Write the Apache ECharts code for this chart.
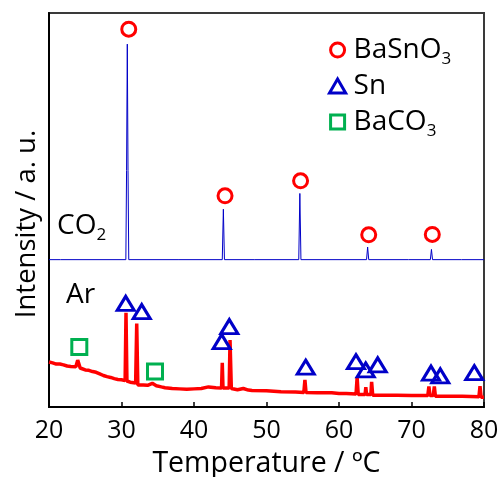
<!DOCTYPE html>
<html>
<head>
<meta charset="utf-8">
<script src="https://cdn.jsdelivr.net/npm/echarts@6/dist/echarts.min.js"></script>
<style>
  html, body { margin: 0; padding: 0; background: #fff; }
  #chart { width: 501px; height: 477px; }
</style>
</head>
<body>
<div id="chart"></div>
<script>
// XRD-style patterns: temperature (x) vs intensity in arbitrary units (y)
const xTicks = [20, 30, 40, 50, 60, 70, 80];

// Pattern recorded under CO2 (offset upward)
const co2Pattern = [
  [20.0, 37.4], [21.6, 37.4], [21.7, 37.6], [21.8, 37.4], [30.6, 37.4], [30.7, 60.0],
  [30.8, 92.1], [30.9, 60.0], [31.0, 37.4], [37.8, 37.4], [37.9, 37.6], [38.0, 37.4],
  [43.9, 37.4], [44.05, 50.2], [44.2, 37.4], [48.3, 37.4], [48.4, 37.6], [48.5, 37.4],
  [54.45, 37.4], [54.6, 54.2], [54.75, 37.4], [63.8, 37.4], [63.95, 40.6], [64.1, 37.4],
  [69.6, 37.4], [69.7, 37.8], [69.8, 37.4], [72.6, 37.4], [72.75, 40.0], [72.9, 37.4],
  [76.9, 37.4], [77.0, 37.8], [77.1, 37.4], [80.0, 37.4]
];

// Pattern recorded under Ar
const arPattern = [
  [20.0, 11.4], [20.5, 11.2], [21.0, 10.9], [21.5, 10.9], [22.0, 10.7], [22.5, 10.4],
  [23.0, 10.3], [23.7, 10.2], [23.96, 11.9], [24.3, 9.9], [25.0, 9.4], [25.5, 9.3],
  [26.0, 9.0], [26.5, 8.8], [27.0, 8.4], [27.5, 8.0], [28.0, 7.7], [28.5, 7.5],
  [29.0, 7.2], [29.5, 7.0], [30.0, 6.9], [30.5, 6.7], [30.62, 23.9], [30.75, 6.6],
  [31.2, 6.3], [31.95, 6.1], [32.1, 21.2], [32.25, 5.6], [33.0, 5.6], [33.6, 5.5],
  [34.25, 6.0], [34.8, 5.4], [35.0, 5.3], [35.5, 5.1], [36.0, 4.9], [37.0, 4.7],
  [38.0, 4.6], [39.0, 4.5], [40.0, 4.6], [41.0, 4.7], [42.0, 5.1], [43.0, 4.9],
  [43.8, 4.8], [43.9, 11.2], [44.0, 4.8], [44.85, 4.8], [44.97, 17.0], [45.15, 4.7],
  [46.0, 4.4], [46.8, 4.7], [47.5, 4.3], [48.0, 4.2], [50.0, 4.1], [52.0, 3.9],
  [54.0, 3.8], [55.15, 3.7], [55.3, 6.9], [55.45, 3.7], [57.0, 3.6], [59.0, 3.6],
  [60.0, 3.4], [61.0, 3.4], [62.35, 3.3], [62.5, 7.5], [62.65, 3.2], [63.6, 3.2],
  [63.7, 5.0], [63.8, 3.2], [64.4, 3.2], [64.5, 6.4], [64.65, 3.0], [66.0, 3.0],
  [68.0, 3.0], [70.0, 2.9], [72.25, 2.9], [72.4, 5.2], [72.55, 2.9], [73.0, 2.9],
  [73.15, 5.2], [73.3, 2.7], [75.0, 2.7], [77.0, 2.7], [79.3, 2.6], [79.45, 5.3],
  [79.6, 2.5], [80.0, 2.5]
];

// Phase markers placed above the reflections
const basno3Marks = [[31.0, 95.9], [44.28, 53.6], [54.7, 57.4], [64.1, 43.7], [72.87, 43.8]];
const snMarks = [
  [30.58, 26.3], [32.79, 24.2], [43.82, 16.6], [44.87, 20.4], [55.41, 10.1],
  [62.34, 11.5], [63.68, 9.4], [65.34, 10.7], [72.69, 8.6], [73.97, 7.9], [78.66, 8.7]
];
const baco3Marks = [[24.18, 15.2], [34.62, 9.0]];

const FONT = '"Open Sans", "Noto Sans", sans-serif';
const RED = '#ff0000';
const BLUE = '#0000c8';
const GREEN = '#00b050';

// Square and triangle outlines that keep their aspect inside the legend box
const SQUARE_ICON = 'path://M0,0H10V10H0Z';
const TRIANGLE_ICON = 'path://M5,0L10,8.66L0,8.66Z';

const legendNames = {
  'BaSnO3': '{m|BaSnO}{s|3}',
  'Sn': '{m|Sn}',
  'BaCO3': '{m|BaCO}{s|3}'
};

const chart = echarts.init(document.getElementById('chart'), null, { renderer: 'canvas' });

chart.setOption({
  animation: false,
  backgroundColor: '#ffffff',
  grid: {
    left: 49, right: 17, top: 13, bottom: 70,
    containLabel: false,
    outerBoundsMode: 'none',
    show: true, borderColor: '#3a3a3a', borderWidth: 2, backgroundColor: 'transparent'
  },
  xAxis: {
    type: 'value',
    min: xTicks[0],
    max: xTicks[xTicks.length - 1],
    interval: 10,
    axisLine: { show: true, lineStyle: { color: '#000', width: 2 } },
    axisTick: { show: true, inside: true, length: 5, lineStyle: { color: '#000', width: 1.5 } },
    axisLabel: { fontFamily: FONT, fontSize: 25, color: '#000', margin: 11 },
    splitLine: { show: false },
    name: 'Temperature / ºC',
    nameLocation: 'middle',
    nameGap: 42,
    nameTextStyle: { fontFamily: FONT, fontSize: 28.5, color: '#000' }
  },
  yAxis: {
    type: 'value',
    min: 0,
    max: 100,
    axisLine: { show: true, lineStyle: { color: '#000', width: 2 } },
    axisTick: { show: false },
    axisLabel: { show: false },
    splitLine: { show: false }
  },
  legend: {
    orient: 'vertical',
    left: 328,
    top: 32,
    padding: 0,
    itemWidth: 22,
    itemHeight: 14,
    itemGap: 0,
    selectedMode: false,
    formatter: name => legendNames[name],
    textStyle: {
      fontFamily: FONT, fontSize: 28, color: '#000', lineHeight: 36,
      rich: {
        m: { fontFamily: FONT, fontSize: 28, color: '#000', lineHeight: 36 },
        s: { fontFamily: FONT, fontSize: 17, color: '#000', lineHeight: 12, verticalAlign: 'bottom' }
      }
    },
    data: [
      { name: 'BaSnO3', icon: 'circle', itemStyle: { color: '#fff', borderColor: RED, borderWidth: 3 } },
      { name: 'Sn', icon: TRIANGLE_ICON, itemStyle: { color: '#fff', borderColor: BLUE, borderWidth: 3 } },
      { name: 'BaCO3', icon: SQUARE_ICON, itemStyle: { color: '#fff', borderColor: GREEN, borderWidth: 3 } }
    ]
  },
  graphic: [
    {
      type: 'text', left: 57, top: 212,
      style: {
        text: '{m|CO}{s|2}', fill: '#000',
        rich: {
          m: { fontFamily: FONT, fontSize: 28, lineHeight: 36, fill: '#000' },
          s: { fontFamily: FONT, fontSize: 17, lineHeight: 12, verticalAlign: 'bottom', fill: '#000' }
        }
      }
    },
    {
      type: 'text', left: 66, top: 281,
      style: { text: 'Ar', fontFamily: FONT, fontSize: 28, fill: '#000' }
    },
    {
      type: 'text', x: 27, y: 224, rotation: Math.PI / 2,
      style: {
        text: 'Intensity / a. u.', fontFamily: FONT, fontSize: 27.5, fill: '#000',
        align: 'center', verticalAlign: 'middle'
      }
    }
  ],
  series: [
    {
      name: 'CO2', type: 'line', data: co2Pattern, showSymbol: false, silent: true,
      lineStyle: { color: BLUE, width: 1 }, z: 2
    },
    {
      name: 'Ar', type: 'line', data: arPattern, showSymbol: false, silent: true,
      lineStyle: { color: RED, width: 3.5 }, z: 2
    },
    {
      name: 'BaSnO3', type: 'scatter', data: basno3Marks, symbol: 'circle', symbolSize: 14,
      itemStyle: { color: '#fff', borderColor: RED, borderWidth: 3, opacity: 1 }, z: 3
    },
    {
      name: 'Sn', type: 'scatter', data: snMarks, symbol: 'triangle', symbolSize: [17, 14],
      itemStyle: { color: 'rgba(255,255,255,0)', borderColor: BLUE, borderWidth: 3, opacity: 1 }, z: 3
    },
    {
      name: 'BaCO3', type: 'scatter', data: baco3Marks, symbol: 'rect', symbolSize: 15,
      itemStyle: { color: '#fff', borderColor: GREEN, borderWidth: 3, opacity: 1 }, z: 3
    }
  ]
});
</script>
</body>
</html>
